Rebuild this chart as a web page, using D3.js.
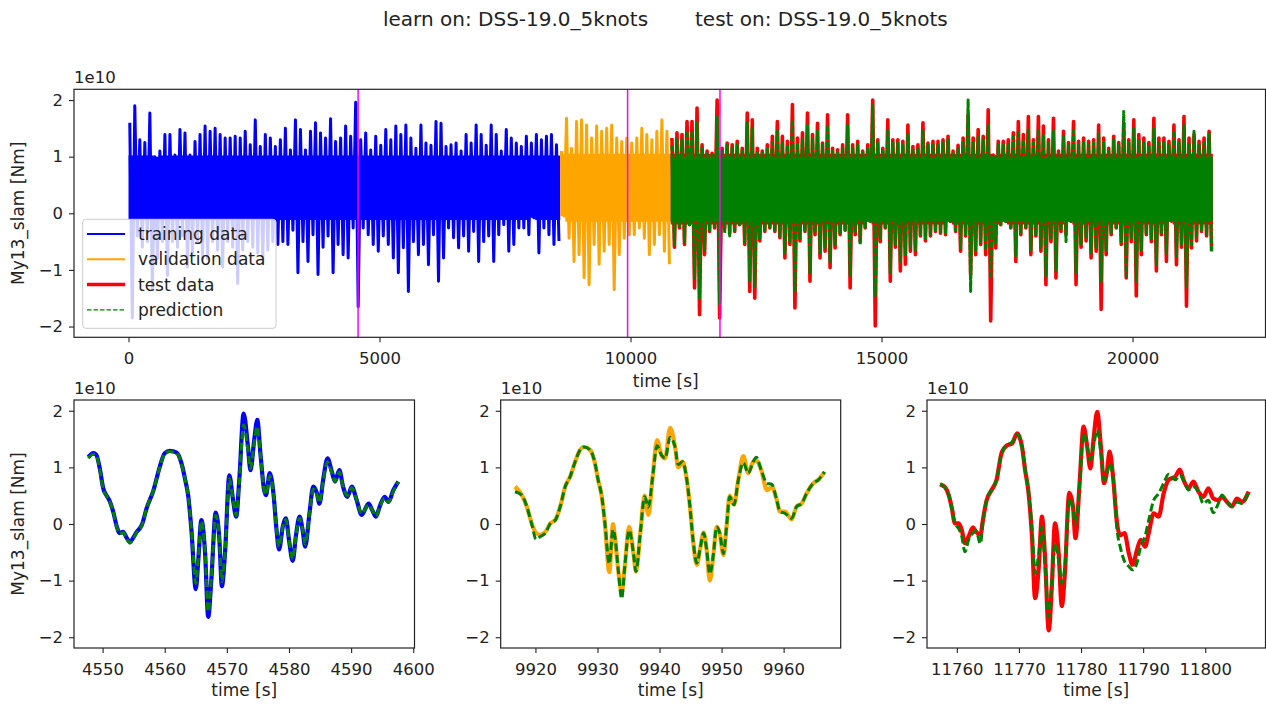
<!DOCTYPE html>
<html>
<head>
<meta charset="utf-8">
<script src="https://cdn.jsdelivr.net/npm/d3@7"></script>
<style>
  html, body { margin: 0; padding: 0; background: #fff; }
  svg { display: block; font-family: "DejaVu Sans", sans-serif; }
</style>
</head>
<body>
<svg id="fig" width="1266" height="704"></svg>
<script>
// ---------------- data ----------------
// Overview record: per 100 s bin, the highest and lowest moment (units of 1e10 Nm)
const binWidth = 100;
const trainStart = 0, validStart = 8600, testStart = 10800;

const trainHi = [1.6,1.9,1.3,1.25,1.77,1.0,1.1,1.39,1.39,1.03,
  1.48,1.42,1.03,1.27,1.39,1.54,1.45,1.5,1.39,1.33,
  1.33,1.36,1.33,1.45,1.21,1.65,1.18,1.39,1.33,1.18,
  1.3,1.5,1.12,1.65,1.48,1.12,1.45,1.6,1.42,1.33,
  1.67,1.27,1.33,1.54,1.36,1.96,1.3,1.42,1.12,1.36,
  1.2,1.48,1.3,1.54,1.39,1.56,1.33,1.15,1.56,1.24,
  1.2,1.62,1.59,1.18,1.21,1.24,1.1,1.39,1.24,1.56,
  1.39,1.2,1.56,1.39,1.1,1.48,1.33,1.24,1.18,1.36,
  1.24,1.39,1.3,1.36,1.39,1.21];
const trainLo = [-1.85,-0.4,-0.6,-0.5,-1.35,-0.8,-0.5,-1.1,-0.5,-0.6,
  -0.4,-0.95,-0.7,-0.5,-0.8,-0.8,-0.5,-0.65,-0.95,-0.5,
  -0.6,-1.24,-0.65,-0.5,-0.6,-0.7,-0.8,-0.65,-0.5,-0.55,
  -0.5,-0.55,-0.3,-1.05,-0.5,-0.85,-0.38,-1.08,-0.6,-0.4,
  -1.05,-0.55,-0.73,-0.79,-0.26,-1.65,-0.26,-0.38,-0.55,-0.67,
  -0.4,-0.55,-0.79,-1.05,-0.61,-1.38,-0.5,-0.73,-0.55,-0.91,
  -0.38,-1.2,-0.79,-0.26,-0.43,-0.61,-0.4,-0.67,-0.32,-0.85,
  -0.5,-0.4,-0.85,-0.38,-0.2,-0.67,-0.55,-0.26,-0.26,-0.38,
  -0.08,-0.7,-0.26,-0.38,-0.55,-0.49];

const validHi = [1.1,1.68,1.15,1.62,1.65,1.56,1.33,1.54,1.45,1.5,1.56,
  1.33,1.27,1.33,1.24,1.33,1.5,1.39,1.3,1.45,1.65,1.45];
const validLo = [-0.05,-0.44,-0.85,-0.73,-1.14,-1.26,-0.55,-0.9,-0.67,-0.55,-1.35,
  -0.73,-0.44,-0.38,-0.38,-0.26,-0.44,-0.73,-0.55,-0.38,-0.67,-0.9];

const testHi = [1.33,1.42,1.39,1.62,1.62,1.86,1.21,1.1,1.06,2.0,
  1.15,1.24,1.21,1.27,1.15,1.77,1.65,1.15,1.1,1.21,
  1.36,1.62,1.36,1.27,1.92,1.33,1.42,1.77,1.39,1.59,
  1.24,1.74,1.15,1.12,1.21,1.74,1.21,1.27,1.1,1.21,
  2.0,1.3,1.15,1.65,1.3,1.3,1.27,1.56,1.18,1.21,
  1.6,1.24,1.27,1.27,1.3,1.36,1.1,1.2,1.33,1.75,
  1.33,1.48,1.36,1.83,1.03,1.27,1.27,1.3,1.42,1.62,
  1.39,1.71,1.3,1.71,1.54,1.3,1.68,1.1,1.45,1.25,
  1.62,1.27,1.33,1.27,1.3,1.56,1.33,1.15,1.36,1.25,
  1.6,1.3,1.65,1.39,1.33,1.25,1.68,1.33,1.33,1.27,
  1.56,1.3,1.71,1.33,1.39,1.27,1.33,1.45];
const testLo = [-0.6,-0.26,-0.55,-0.2,-1.32,-1.79,-0.73,-0.32,-0.26,-1.85,
  -0.26,-0.35,-0.32,-0.2,-0.55,-1.38,-1.5,-0.49,-0.32,-0.26,
  -0.32,-0.43,-0.79,-0.55,-1.67,-0.49,-0.32,-1.2,-0.38,-0.79,
  -0.67,-0.96,-0.61,-0.38,-0.3,-1.32,-0.38,-0.5,-0.26,-0.14,
  -1.99,-0.5,-0.26,-1.2,-0.6,-1.02,-0.9,-0.67,-0.73,-0.4,
  -0.49,-0.4,-0.32,-0.35,-0.38,-0.14,-0.32,-0.67,-0.4,-1.08,
  -0.73,-0.55,-0.73,-1.9,-0.61,-0.2,-0.14,-0.26,-0.85,-0.38,
  -0.26,-0.73,-0.4,-0.67,-1.26,-0.5,-1.14,-0.32,-0.38,-0.14,
  -1.26,-0.6,-0.49,-0.79,-0.67,-1.7,-0.73,-0.38,-0.26,-0.55,
  -1.14,-0.5,-1.46,-0.73,-0.38,-0.5,-1.02,-0.38,-0.85,-0.14,
  -0.91,-0.6,-1.64,-0.61,-0.49,-0.32,-0.4,-0.67];

const predHi = [1.2,1.3,1.3,1.45,1.45,1.6,1.15,1.05,1.03,1.7,
  1.1,1.2,1.15,1.2,1.1,1.6,1.5,1.1,1.08,1.15,
  1.25,1.45,1.25,1.2,1.65,1.25,1.3,1.55,1.3,1.45,
  1.2,1.55,1.1,1.08,1.15,1.55,1.15,1.2,1.08,1.15,
  1.9,1.25,1.1,1.45,1.25,1.25,1.2,1.4,1.12,1.15,
  1.45,1.2,1.2,1.2,1.25,1.3,1.05,1.15,1.25,2.0,
  1.25,1.35,1.3,1.55,1.0,1.2,1.2,1.25,1.35,1.45,
  1.3,1.5,1.25,1.5,1.4,1.25,1.45,1.05,1.35,1.2,
  1.45,1.2,1.25,1.2,1.25,1.4,1.25,1.1,1.3,1.2,
  1.8,1.25,1.5,1.3,1.25,1.2,1.5,1.25,1.25,1.2,
  1.45,1.25,1.55,1.25,1.45,1.2,1.25,1.4];
const predLo = [-0.55,-0.25,-0.5,-0.2,-1.15,-1.5,-0.65,-0.3,-0.25,-1.6,
  -0.35,-0.4,-0.3,-0.2,-0.5,-1.2,-1.3,-0.45,-0.3,-0.25,
  -0.3,-0.4,-0.7,-0.5,-1.4,-0.45,-0.3,-1.05,-0.35,-0.7,
  -0.6,-0.85,-0.55,-0.35,-0.3,-1.1,-0.35,-0.55,-0.25,-0.15,
  -1.45,-0.45,-0.25,-1.05,-0.55,-0.85,-0.75,-0.6,-0.65,-0.4,
  -0.45,-0.38,-0.3,-0.33,-0.35,-0.15,-0.3,-0.6,-0.38,-1.38,
  -0.65,-0.5,-0.65,-1.15,-0.55,-0.2,-0.15,-0.25,-0.75,-0.35,
  -0.25,-0.65,-0.38,-0.6,-1.1,-0.45,-1.0,-0.3,-0.5,-0.15,
  -1.05,-0.55,-0.45,-0.7,-0.6,-1.2,-0.65,-0.35,-0.25,-0.5,
  -1.1,-0.45,-1.2,-0.65,-0.35,-0.45,-0.9,-0.35,-0.7,-0.15,
  -0.75,-0.55,-1.3,-0.55,-0.45,-0.3,-0.38,-0.67];

// Dense band of each record, where the trace fills the plot solidly [low, high]
const trainCore = [-0.12, 1.02];
const validCore = [-0.15, 1.05];
const testCore = [-0.2, 1.05];
const predCore = [-0.15, 1.0];

// Times of the three detail windows, marked in the overview
const markerTimes = [4573, 9942, 11782];

// Detail window 1 (training)
const seg1Time = [4547.7,4548.5,4549.0,4549.6,4550.1,4550.6,4551.2,4551.7,4552.3,4552.7,
  4553.3,4553.9,4554.4,4554.9,4555.5,4556.3,4557.1,4558.2,4559.2,4560.0,
  4560.8,4561.9,4562.7,4563.3,4563.8,4564.3,4565.0,4565.4,4565.9,4566.5,
  4567.0,4567.5,4568.2,4568.8,4569.2,4569.7,4570.4,4571.0,4571.5,4572.0,
  4572.7,4573.4,4573.8,4574.4,4574.9,4575.4,4576.0,4576.3,4576.9,4577.5,
  4578.0,4578.4,4579.0,4579.5,4580.0,4580.6,4581.1,4581.7,4582.2,4582.6,
  4583.3,4583.9,4584.5,4584.9,4585.5,4586.2,4586.9,4587.4,4588.1,4588.7,
  4589.4,4590.1,4590.9,4591.7,4592.8,4593.5,4594.0,4594.6,4595.4,4596.0,
  4596.8,4597.6];
const seg1Train = [1.18,1.25,1.22,0.95,0.63,0.51,0.39,0.22,-0.05,-0.16,
  -0.14,-0.25,-0.32,-0.25,-0.14,-0.02,0.28,0.6,1.01,1.25,
  1.29,1.26,1.07,0.78,0.48,-0.11,-1.15,-0.64,0.07,-0.52,
  -1.64,-0.99,0.2,-0.28,-1.1,-0.52,0.86,0.42,0.13,0.78,
  1.95,1.36,0.95,1.48,1.84,1.25,0.6,0.51,0.9,0.54,
  -0.11,-0.45,-0.05,0.1,-0.28,-0.65,-0.22,0.13,-0.11,-0.4,
  0.19,0.66,0.54,0.36,0.78,1.16,0.92,0.75,0.95,0.66,
  0.48,0.66,0.42,0.16,0.36,0.22,0.13,0.31,0.48,0.39,
  0.6,0.75];
const seg1Pred = [1.16,1.23,1.2,0.93,0.62,0.5,0.38,0.22,-0.06,-0.17,
  -0.15,-0.27,-0.34,-0.27,-0.15,-0.03,0.28,0.6,1.0,1.24,
  1.28,1.25,1.06,0.78,0.48,-0.1,-1.05,-0.6,0.05,-0.5,
  -1.55,-0.95,0.15,-0.28,-1.02,-0.5,0.8,0.42,0.15,0.75,
  1.75,1.3,0.98,1.45,1.72,1.22,0.6,0.52,0.85,0.54,
  -0.1,-0.4,-0.05,0.08,-0.28,-0.62,-0.22,0.1,-0.1,-0.36,
  0.18,0.62,0.52,0.38,0.76,1.1,0.9,0.75,0.92,0.66,
  0.5,0.64,0.42,0.18,0.34,0.22,0.14,0.3,0.46,0.38,
  0.58,0.74];

// Detail window 2 (validation)
const seg2Time = [9916.7,9917.8,9918.6,9919.4,9920.1,9920.8,9921.6,9922.4,9923.2,9924.0,
  9924.8,9925.6,9926.4,9927.2,9927.8,9928.8,9929.6,9930.1,9930.7,9931.2,
  9931.9,9932.5,9932.8,9933.4,9933.9,9934.4,9935.1,9935.8,9936.2,9936.9,
  9937.6,9938.2,9938.9,9939.6,9940.3,9940.9,9941.7,9942.5,9943.0,9943.7,
  9944.4,9944.9,9945.4,9946.0,9946.6,9947.1,9947.6,9948.1,9948.7,9949.2,
  9949.7,9950.3,9950.8,9951.3,9952.0,9952.7,9953.5,9954.3,9955.1,9955.6,
  9956.4,9957.3,9958.1,9958.9,9959.4,9960.2,9961.3,9962.1,9962.9,9963.7,
  9964.8,9965.6,9966.6];
const seg2Valid = [0.66,0.51,0.31,0.01,-0.16,-0.19,-0.14,0.01,0.07,0.31,
  0.66,0.84,1.1,1.31,1.36,1.31,1.07,0.78,0.48,0.01,
  -0.85,0.0,-0.22,-0.87,-1.2,-0.75,-0.05,-0.52,-0.84,-0.16,
  0.5,0.16,0.84,1.48,1.22,1.16,1.7,1.36,1.0,1.1,
  0.78,0.31,-0.28,-0.72,-0.4,-0.15,-0.46,-1.0,-0.52,-0.05,
  -0.16,-0.55,-0.05,0.5,0.34,0.78,1.2,0.9,1.1,1.12,
  0.95,0.6,0.65,0.42,0.22,0.22,0.08,0.31,0.36,0.54,
  0.72,0.78,0.92];
const seg2Pred = [0.57,0.51,0.31,0.0,-0.27,-0.22,-0.16,0.01,0.07,0.31,
  0.66,0.84,1.1,1.31,1.36,1.31,1.07,0.78,0.48,0.01,
  -0.7,-0.1,-0.22,-0.87,-1.32,-0.75,-0.11,-0.52,-0.84,-0.16,
  0.48,0.3,0.84,1.38,1.22,1.16,1.53,1.36,1.05,1.1,
  0.78,0.31,-0.28,-0.69,-0.4,-0.16,-0.46,-0.88,-0.52,-0.05,
  -0.16,-0.52,-0.05,0.48,0.34,0.78,1.08,0.9,1.1,1.18,
  0.95,0.72,0.7,0.42,0.22,0.19,0.1,0.31,0.36,0.54,
  0.72,0.78,0.92];

// Detail window 3 (test)
const seg3Time = [11757.3,11758.1,11758.7,11759.2,11759.7,11760.3,11760.8,11761.3,11761.9,11762.6,
  11763.1,11763.8,11764.2,11764.8,11765.6,11766.4,11767.2,11768.1,11768.9,11769.7,
  11770.5,11771.0,11771.5,11772.1,11772.6,11773.2,11773.7,11774.2,11774.8,11775.3,
  11775.8,11776.4,11776.9,11777.4,11778.1,11778.7,11779.1,11779.8,11780.4,11781.0,
  11781.5,11782.0,11782.6,11783.2,11783.7,11784.2,11784.6,11785.2,11785.8,11786.3,
  11787.0,11787.7,11788.3,11789.0,11789.6,11790.3,11790.9,11791.7,11792.5,11793.3,
  11794.1,11795.2,11795.9,11796.5,11797.3,11798.1,11798.9,11799.7,11800.5,11801.3,
  11802.1,11802.7,11803.5,11804.3,11805.1,11805.9,11807.0];
const seg3Test = [0.7,0.65,0.51,0.28,0.01,0.01,-0.11,-0.34,-0.22,-0.06,
  -0.14,-0.19,0.07,0.42,0.6,0.78,1.25,1.39,1.42,1.6,
  1.36,0.95,0.6,-0.22,-1.31,-0.75,0.13,-0.58,-1.88,-1.1,
  0.01,-0.52,-1.45,-0.87,0.55,0.31,-0.25,0.78,1.72,1.36,
  0.98,1.48,1.98,1.36,0.72,0.95,1.28,0.78,0.01,-0.2,
  -0.16,-0.52,-0.72,-0.46,-0.28,-0.4,-0.16,0.19,0.13,0.54,
  0.78,0.84,0.96,0.78,0.63,0.75,0.57,0.48,0.63,0.45,
  0.42,0.48,0.39,0.31,0.45,0.39,0.57];
const seg3Pred = [0.7,0.65,0.51,0.28,0.01,-0.08,-0.22,-0.49,-0.28,-0.16,
  -0.12,-0.35,0.01,0.42,0.6,0.78,1.25,1.39,1.45,1.58,
  1.36,0.95,0.6,-0.05,-0.87,-0.52,-0.05,-0.75,-1.64,-0.99,
  -0.34,-0.64,-1.05,-0.75,0.45,0.25,0.01,0.72,1.6,1.36,
  1.13,1.36,1.66,1.25,0.78,0.9,1.07,0.78,-0.11,-0.4,
  -0.66,-0.75,-0.81,-0.69,-0.4,-0.22,0.07,0.42,0.54,0.72,
  0.88,0.78,0.86,0.78,0.6,0.66,0.57,0.36,0.42,0.2,
  0.36,0.51,0.39,0.31,0.39,0.36,0.57];

const yTicks = [-2, -1, 0, 1, 2];
const overviewTicks = [0, 5000, 10000, 15000, 20000];
const legendLabels = ["training data", "validation data", "test data", "prediction"];
const titleLeft = "learn on: DSS-19.0_5knots";
const titleRight = "test on: DSS-19.0_5knots";

// ---------------- drawing ----------------
const COL = { train: "#0000ff", valid: "#ffa500", test: "#ff0000", pred: "#008000",
              mark: "#ff00ff", ink: "#222222" };
const TICK_FONT = 16.5, LABEL_FONT = 17;

const svg = d3.select("#fig");
svg.append("rect").attr("width", 1266).attr("height", 704).attr("fill", "#fff");

// hi/lo bins as a zig-zag trace
function zigzag(start, hi, lo) {
  const pts = [];
  hi.forEach((h, i) => {
    const t0 = start + i * binWidth;
    pts.push([t0 + binWidth * 0.25, h]);
    pts.push([t0 + binWidth * 0.75, lo[i]]);
  });
  return pts;
}
// solid band of a record, limited by each bin's extremes
function band(start, hi, lo, core) {
  const pts = hi.map((h, i) => ({
    t: start + i * binWidth,
    hi: Math.min(h, core[1]),
    lo: Math.max(lo[i], core[0])
  }));
  const last = pts[pts.length - 1];
  pts.push({ t: last.t + binWidth, hi: last.hi, lo: last.lo });
  return pts;
}

function styleAxis(g, size) {
  g.select(".domain").remove();
  g.selectAll(".tick line").attr("stroke", COL.ink).attr("stroke-width", 1.1);
  g.selectAll(".tick text").attr("fill", COL.ink).attr("font-size", size)
    .attr("font-family", "DejaVu Sans, sans-serif");
}

function frame(g, box) {
  g.append("rect")
    .attr("x", box.left).attr("y", box.top)
    .attr("width", box.right - box.left).attr("height", box.bottom - box.top)
    .attr("fill", "none").attr("stroke", COL.ink).attr("stroke-width", 1.2);
}

function yAxis(g, y, box) {
  const ax = g.append("g").attr("transform", `translate(${box.left},0)`)
    .call(d3.axisLeft(y).tickValues(yTicks).tickSize(5).tickPadding(6)
      .tickFormat(d3.format("d")));
  styleAxis(ax, TICK_FONT);
  g.append("text").attr("x", box.left).attr("y", box.top - 6)
    .attr("font-size", TICK_FONT).attr("fill", COL.ink).text("1e10");
}

function xAxis(g, x, box, ticks) {
  const ax = g.append("g").attr("transform", `translate(0,${box.bottom})`)
    .call(d3.axisBottom(x).tickValues(ticks).tickSize(5).tickPadding(10)
      .tickFormat(d3.format("d")));
  styleAxis(ax, TICK_FONT);
}

// ---- overview ----
const mainBox = { left: 74, right: 1265.5, top: 89.3, bottom: 337.3 };
const xMain = d3.scaleLinear().domain([-1086, 22649]).range([mainBox.left, mainBox.right]);
const yMain = d3.scaleLinear().domain([-2.19, 2.19]).range([mainBox.bottom, mainBox.top]);
const gMain = svg.append("g");
gMain.append("clipPath").attr("id", "clipMain").append("rect")
  .attr("x", mainBox.left).attr("y", mainBox.top)
  .attr("width", mainBox.right - mainBox.left).attr("height", mainBox.bottom - mainBox.top);

const lineMain = d3.line().x(d => xMain(d[0])).y(d => yMain(d[1]));
const areaMain = d3.area().curve(d3.curveStepAfter)
  .x(d => xMain(d.t)).y0(d => yMain(d.lo)).y1(d => yMain(d.hi));
const plotMain = gMain.append("g").attr("clip-path", "url(#clipMain)");

function record(start, hi, lo, core, color, width, dash) {
  plotMain.append("path").datum(band(start, hi, lo, core))
    .attr("d", areaMain).attr("fill", color);
  plotMain.append("path").datum(zigzag(start, hi, lo))
    .attr("d", lineMain).attr("fill", "none").attr("stroke", color)
    .attr("stroke-width", width).attr("stroke-linejoin", "round")
    .attr("stroke-dasharray", dash);
}
record(trainStart, trainHi, trainLo, trainCore, COL.train, 3, null);
record(validStart, validHi, validLo, validCore, COL.valid, 3, null);
record(testStart, testHi, testLo, testCore, COL.test, 3.6, null);
record(testStart, predHi, predLo, predCore, COL.pred, 3, "6,1.5");

plotMain.selectAll("line.mark").data(markerTimes).join("line")
  .attr("class", "mark")
  .attr("x1", d => xMain(d)).attr("x2", d => xMain(d))
  .attr("y1", mainBox.top).attr("y2", mainBox.bottom)
  .attr("stroke", COL.mark).attr("stroke-width", 1.5);

frame(gMain, mainBox);
yAxis(gMain, yMain, mainBox);
xAxis(gMain, xMain, mainBox, overviewTicks);

gMain.append("text").attr("x", (mainBox.left + mainBox.right) / 2 - 4).attr("y", 387)
  .attr("text-anchor", "middle").attr("font-size", LABEL_FONT).attr("fill", COL.ink)
  .text("time [s]");
gMain.append("text")
  .attr("transform", `translate(24,${(mainBox.top + mainBox.bottom) / 2}) rotate(-90)`)
  .attr("text-anchor", "middle").attr("font-size", LABEL_FONT).attr("fill", COL.ink)
  .text("My13_slam [Nm]");

// legend
const leg = gMain.append("g");
leg.append("rect").attr("x", 82.7).attr("y", 219.3).attr("width", 193.3).attr("height", 109)
  .attr("rx", 3).attr("fill", "#fff").attr("fill-opacity", 0.8)
  .attr("stroke", "#cccccc").attr("stroke-width", 1);
const legStyle = [
  { c: COL.train, w: 2, dash: null },
  { c: COL.valid, w: 2, dash: null },
  { c: COL.test, w: 3.5, dash: null },
  { c: COL.pred, w: 1.3, dash: "4.5,2" }
];
legendLabels.forEach((lab, i) => {
  const yy = 234 + i * 25.3;
  leg.append("line").attr("x1", 87).attr("x2", 125).attr("y1", yy).attr("y2", yy)
    .attr("stroke", legStyle[i].c).attr("stroke-width", legStyle[i].w)
    .attr("stroke-dasharray", legStyle[i].dash);
  leg.append("text").attr("x", 138).attr("y", yy + 6)
    .attr("font-size", LABEL_FONT).attr("fill", COL.ink).text(lab);
});

// title
svg.append("text").attr("x", 383).attr("y", 26).attr("font-size", 20).attr("fill", COL.ink)
  .text(titleLeft);
svg.append("text").attr("x", 695).attr("y", 26).attr("font-size", 20).attr("fill", COL.ink)
  .text(titleRight);

// ---- detail windows ----
const panels = [
  { box: { left: 74, right: 414.5, top: 400, bottom: 648 }, dom: [4545.4, 4600.2],
    ticks: [4550, 4560, 4570, 4580, 4590, 4600], time: seg1Time, real: seg1Train,
    pred: seg1Pred, col: COL.train, ylabel: true },
  { box: { left: 500.7, right: 840.7, top: 400, bottom: 648 }, dom: [9914.4, 9969.2],
    ticks: [9920, 9930, 9940, 9950, 9960], time: seg2Time, real: seg2Valid,
    pred: seg2Pred, col: COL.valid, ylabel: false },
  { box: { left: 927, right: 1265.5, top: 400, bottom: 648 }, dom: [11755.2, 11809.7],
    ticks: [11760, 11770, 11780, 11790, 11800], time: seg3Time, real: seg3Test,
    pred: seg3Pred, col: COL.test, ylabel: false }
];

panels.forEach(p => {
  const g = svg.append("g");
  const x = d3.scaleLinear().domain(p.dom).range([p.box.left, p.box.right]);
  const y = d3.scaleLinear().domain([-2.19, 2.19]).range([p.box.bottom, p.box.top]);
  const line = d3.line().curve(d3.curveMonotoneX)
    .x(d => x(d[0])).y(d => y(d[1]));
  const realPts = p.time.map((t, i) => [t, p.real[i]]);
  const predPts = p.time.map((t, i) => [t, p.pred[i]]);

  g.append("path").datum(realPts).attr("d", line).attr("fill", "none")
    .attr("stroke", p.col).attr("stroke-width", 4.2).attr("stroke-linejoin", "round");
  g.append("path").datum(predPts).attr("d", line).attr("fill", "none")
    .attr("stroke", COL.pred).attr("stroke-width", 3).attr("stroke-dasharray", "8,3.5");

  frame(g, p.box);
  yAxis(g, y, p.box);
  xAxis(g, x, p.box, p.ticks);

  g.append("text").attr("x", (p.box.left + p.box.right) / 2).attr("y", 696)
    .attr("text-anchor", "middle").attr("font-size", LABEL_FONT).attr("fill", COL.ink)
    .text("time [s]");
  if (p.ylabel) {
    g.append("text")
      .attr("transform", `translate(24,${(p.box.top + p.box.bottom) / 2}) rotate(-90)`)
      .attr("text-anchor", "middle").attr("font-size", LABEL_FONT).attr("fill", COL.ink)
      .text("My13_slam [Nm]");
  }
});
</script>
</body>
</html>
